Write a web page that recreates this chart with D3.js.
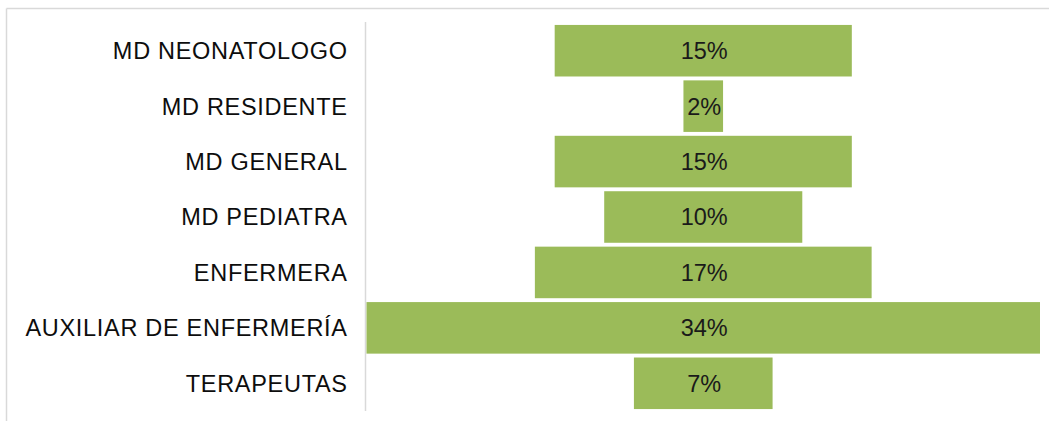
<!DOCTYPE html>
<html>
<head>
<meta charset="utf-8">
<script src="https://cdn.jsdelivr.net/npm/d3@7"></script>
<style>
  html, body { margin: 0; padding: 0; background: #fff; }
  svg { display: block; }
</style>
</head>
<body>
<svg id="chart" width="1049" height="421"></svg>
<script>
// Staff categories and their share (%) of the total
const categories = [
  "MD NEONATOLOGO",
  "MD RESIDENTE",
  "MD GENERAL",
  "MD PEDIATRA",
  "ENFERMERA",
  "AUXILIAR DE ENFERMERÍA",
  "TERAPEUTAS"
];
const values = [15, 2, 15, 10, 17, 34, 7];
const valueLabels = ["15%", "2%", "15%", "10%", "17%", "34%", "7%"];

const svg = d3.select("#chart");
const W = 1049, H = 421;

// Outer frame (top and left edges)
svg.append("line")
  .attr("x1", 6.5).attr("x2", W).attr("y1", 8.5).attr("y2", 8.5)
  .attr("stroke", "#d9d9d9").attr("stroke-width", 1.5);
svg.append("line")
  .attr("x1", 6.5).attr("x2", 6.5).attr("y1", 8.5).attr("y2", H)
  .attr("stroke", "#d9d9d9").attr("stroke-width", 1.5);

// Bars are centred on zero, so the domain is symmetric around the middle
const maxV = d3.max(values);
const x = d3.scaleLinear()
  .domain([-maxV / 2, maxV / 2])
  .range([366.5, 1040]);

const y = d3.scaleBand()
  .domain(categories)
  .range([23, 411])
  .paddingInner(0.07)
  .paddingOuter(0.035);

const data = categories.map((c, i) => ({ cat: c, v: values[i], label: valueLabels[i] }));

// Category axis line
svg.append("line")
  .attr("x1", 365.5).attr("x2", 365.5)
  .attr("y1", 22).attr("y2", 411)
  .attr("stroke", "#d9d9d9").attr("stroke-width", 1.5);

// Bars
svg.append("g").selectAll("rect")
  .data(data)
  .join("rect")
  .attr("x", d => x(-d.v / 2))
  .attr("width", d => x(d.v / 2) - x(-d.v / 2))
  .attr("y", d => y(d.cat))
  .attr("height", y.bandwidth())
  .attr("fill", "#9bbb59");

// Value labels inside bars
svg.append("g").selectAll("text")
  .data(data)
  .join("text")
  .attr("x", d => x(0) + 1)
  .attr("y", d => y(d.cat) + y.bandwidth() / 2)
  .attr("dy", "0.36em")
  .attr("text-anchor", "middle")
  .attr("font-family", "'Liberation Sans', Arial, sans-serif")
  .attr("font-size", 23.5)
  .attr("fill", "#1a1a1a")
  .text(d => d.label);

// Category labels
svg.append("g").selectAll("text")
  .data(data)
  .join("text")
  .attr("x", 347.7)
  .attr("y", d => y(d.cat) + y.bandwidth() / 2)
  .attr("dy", "0.36em")
  .attr("text-anchor", "end")
  .attr("font-family", "'Liberation Sans', Arial, sans-serif")
  .attr("font-size", 23.5)
  .attr("letter-spacing", 0.7)
  .attr("fill", "#0d0d0d")
  .text(d => d.cat);
</script>
</body>
</html>
